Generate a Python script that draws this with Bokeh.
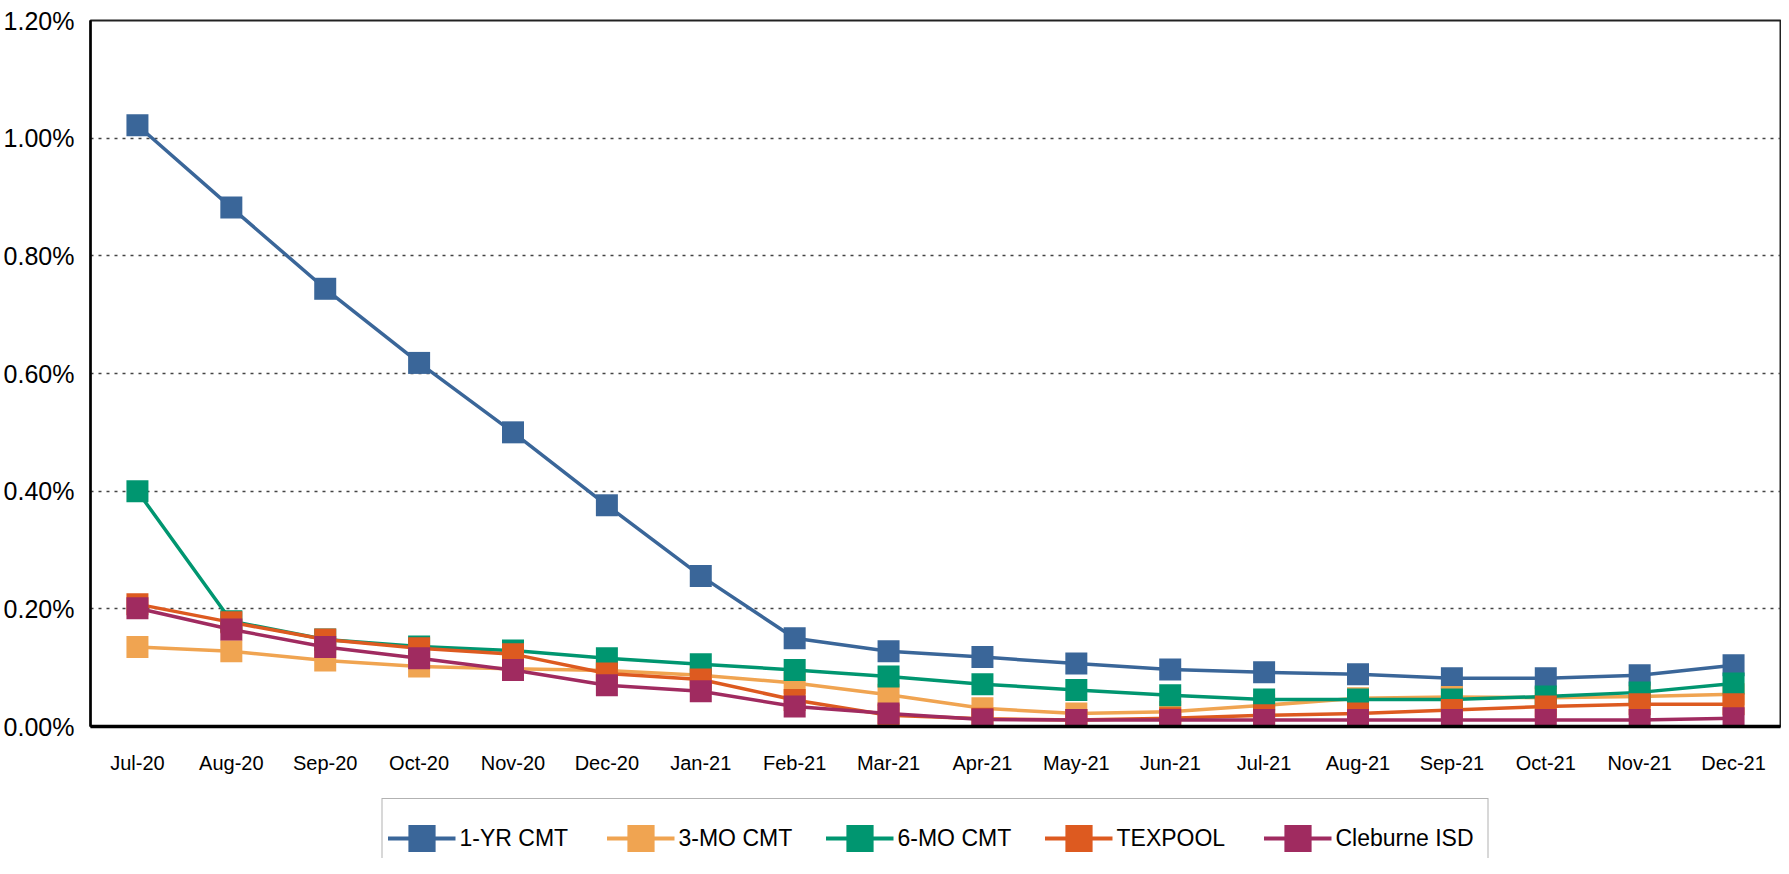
from bokeh.plotting import figure
from bokeh.layouts import column
from bokeh.models import FactorRange, Range1d, FixedTicker, PrintfTickFormatter, Legend, LegendItem
from bokeh.embed import file_html
from bokeh.resources import INLINE

months = ["Jul-20", "Aug-20", "Sep-20", "Oct-20", "Nov-20", "Dec-20", "Jan-21", "Feb-21", "Mar-21",
          "Apr-21", "May-21", "Jun-21", "Jul-21", "Aug-21", "Sep-21", "Oct-21", "Nov-21", "Dec-21"]

one_yr_cmt = [1.022, 0.882, 0.744, 0.618, 0.500, 0.376, 0.256, 0.150, 0.128, 0.118, 0.107, 0.097,
              0.092, 0.089, 0.082, 0.082, 0.087, 0.104]
three_mo_cmt = [0.135, 0.128, 0.112, 0.102, 0.098, 0.095, 0.087, 0.074, 0.054, 0.031, 0.022, 0.025,
                0.036, 0.048, 0.050, 0.049, 0.051, 0.055]
six_mo_cmt = [0.400, 0.179, 0.148, 0.136, 0.129, 0.116, 0.106, 0.096, 0.085, 0.072, 0.062, 0.053,
              0.046, 0.046, 0.046, 0.051, 0.058, 0.073]
texpool = [0.208, 0.177, 0.148, 0.133, 0.123, 0.090, 0.080, 0.045, 0.019, 0.013, 0.011, 0.014,
           0.019, 0.022, 0.028, 0.034, 0.038, 0.038]
cleburne_isd = [0.201, 0.165, 0.135, 0.116, 0.096, 0.070, 0.060, 0.034, 0.022, 0.012, 0.011, 0.011,
                0.011, 0.011, 0.011, 0.011, 0.011, 0.014]

y_ticks = [0.0, 0.2, 0.4, 0.6, 0.8, 1.0, 1.2]

series = [
    ("1-YR CMT", one_yr_cmt, "#3A6699"),
    ("3-MO CMT", three_mo_cmt, "#F0A451"),
    ("6-MO CMT", six_mo_cmt, "#009670"),
    ("TEXPOOL", texpool, "#DD5A20"),
    ("Cleburne ISD", cleburne_isd, "#A02B60"),
]

FONT = "Liberation Sans"
BL, BR = 89, 1

p = figure(x_range=FactorRange(*months), y_range=Range1d(0, 1.2),
           width=1781, height=784, output_backend="svg", toolbar_location=None,
           min_border_left=BL, min_border_right=BR, min_border_top=20, min_border_bottom=58)

p.background_fill_color = "white"
p.border_fill_color = "white"
p.outline_line_color = "#222222"
p.outline_line_width = 2

p.xgrid.visible = False
p.ygrid.ticker = FixedTicker(ticks=y_ticks[1:])
p.ygrid.grid_line_color = "#444444"
p.ygrid.grid_line_dash = "3 5"
p.ygrid.grid_line_width = 1.5

p.yaxis.ticker = FixedTicker(ticks=y_ticks)
p.yaxis.formatter = PrintfTickFormatter(format="%.2f%%")
p.yaxis.major_tick_line_color = None
p.yaxis.minor_tick_line_color = None
p.yaxis.axis_line_color = "black"
p.yaxis.axis_line_width = 2.5
p.yaxis.major_label_text_font = FONT
p.yaxis.major_label_text_font_size = "25px"
p.yaxis.major_label_text_color = "black"
p.yaxis.major_label_standoff = 10

p.xaxis.major_tick_line_color = None
p.xaxis.minor_tick_line_color = None
p.xaxis.axis_line_color = "black"
p.xaxis.axis_line_width = 3.5
p.xaxis.major_label_text_font = FONT
p.xaxis.major_label_text_font_size = "20px"
p.xaxis.major_label_text_color = "black"
p.xaxis.major_label_standoff = 19

for name, vals, col in series:
    p.line(x=months, y=vals, line_color=col, line_width=3.5)
    p.scatter(x=months, y=vals, marker="square", size=22, fill_color=col, line_color=col, line_width=0)

# legend strip below the chart (its series are drawn outside its visible range)
leg = figure(width=1781, height=74, output_backend="svg", toolbar_location=None,
             x_range=FactorRange(*months), y_range=Range1d(5, 6),
             x_axis_location=None, y_axis_location=None,
             min_border_left=BL, min_border_right=BR, min_border_top=0, min_border_bottom=0)
leg.outline_line_color = None
leg.xgrid.visible = False
leg.ygrid.visible = False

items = []
for name, vals, col in series:
    ln = leg.line(x=months, y=vals, line_color=col, line_width=4)
    sc = leg.scatter(x=months, y=vals, marker="square", size=22, fill_color=col, line_color=col, line_width=0)
    items.append(LegendItem(label=name, renderers=[ln, sc]))

legend = Legend(items=items, orientation="horizontal", location="top_center",
                margin=14, padding=5, spacing=0, glyph_width=68, glyph_height=68,
                label_standoff=4, label_width=147,
                label_text_font=FONT, label_text_font_size="23px", label_text_color="black",
                label_text_baseline="middle",
                border_line_color="#666666", border_line_width=1.5,
                background_fill_color="white", background_fill_alpha=1.0)
leg.add_layout(legend)

layout = column(p, leg, spacing=0)
open("out.html", "w").write(file_html(layout, INLINE))
